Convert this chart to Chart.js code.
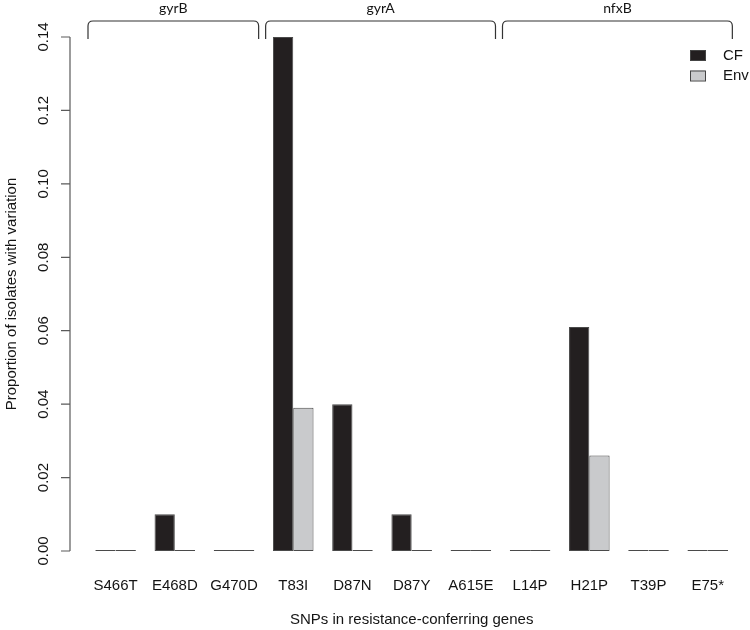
<!DOCTYPE html>
<html>
<head>
<meta charset="utf-8">
<title>SNPs in resistance-conferring genes</title>
<script src="https://cdn.jsdelivr.net/npm/chart.js@4.4.1/dist/chart.umd.min.js"></script>
<style>
  html, body { margin: 0; padding: 0; background: #fff; }
  #wrap { width: 750px; height: 630px; }
</style>
</head>
<body>
<div id="wrap"><canvas id="snp-chart" width="750" height="630"></canvas></div>
<script>
// --- data ---
const categories = ['S466T', 'E468D', 'G470D', 'T83I', 'D87N', 'D87Y', 'A615E', 'L14P', 'H21P', 'T39P', 'E75*'];
const cfValues  = [0, 0.01, 0, 0.14, 0.04, 0.01, 0, 0, 0.061, 0, 0];
const envValues = [0, 0, 0, 0.039, 0, 0, 0, 0, 0.026, 0, 0];
const yTicks = [0, 0.02, 0.04, 0.06, 0.08, 0.10, 0.12, 0.14];
const geneNames = ['gyrB', 'gyrA', 'nfxB'];
const geneFirst = [0, 3, 7];
const geneLast  = [2, 6, 10];

document.addEventListener('DOMContentLoaded', () => {
    const TEXT = '#141414';
    const AXIS = '#5a5a5a';
    const FONT = '"Liberation Sans", Arial, sans-serif';

    // R-style detached y axis: line + tick marks, left of the plot region
    const rAxisPlugin = {
        id: 'rAxis',
        afterDraw(chart) {
            const { ctx, chartArea } = chart;
            const y = chart.scales.y;
            const x0 = chartArea.left - 16;
            ctx.save();
            ctx.strokeStyle = AXIS;
            ctx.lineWidth = 1.2;
            ctx.beginPath();
            ctx.moveTo(x0, y.getPixelForValue(yTicks[0]));
            ctx.lineTo(x0, y.getPixelForValue(yTicks[yTicks.length - 1]));
            y.ticks.forEach(t => {
                const py = y.getPixelForValue(t.value);
                ctx.moveTo(x0 - 9, py);
                ctx.lineTo(x0, py);
            });
            ctx.stroke();
            ctx.restore();
        }
    };

    // gene brackets above the groups of SNPs
    const bracketPlugin = {
        id: 'geneBrackets',
        afterDraw(chart) {
            const { ctx } = chart;
            const x = chart.scales.x;
            const half = (x.getPixelForValue(1) - x.getPixelForValue(0)) / 2;
            const top = 21, foot = 39, r = 5;
            ctx.save();
            ctx.strokeStyle = '#333';
            ctx.lineWidth = 1.2;
            ctx.fillStyle = TEXT;
            ctx.font = '14px Lato, "Open Sans", sans-serif';
            ctx.textAlign = 'center';
            ctx.textBaseline = 'middle';
            geneNames.forEach((name, i) => {
                const left = x.getPixelForValue(geneFirst[i]) - half + 2;
                const right = x.getPixelForValue(geneLast[i]) + half - 5;
                ctx.beginPath();
                ctx.moveTo(left, foot);
                ctx.lineTo(left, top + r);
                ctx.quadraticCurveTo(left, top, left + r, top);
                ctx.lineTo(right - r, top);
                ctx.quadraticCurveTo(right, top, right, top + r);
                ctx.lineTo(right, foot);
                ctx.stroke();
                ctx.fillText(name, (left + right) / 2, 8);
            });
            ctx.restore();
        }
    };

    // legend in the top-right corner, built from the datasets
    const legendPlugin = {
        id: 'cornerLegend',
        afterDraw(chart) {
            const { ctx } = chart;
            ctx.save();
            ctx.font = '15px ' + FONT;
            ctx.textBaseline = 'middle';
            ctx.textAlign = 'left';
            chart.data.datasets.forEach((ds, i) => {
                const by = 50 + i * 20.5;
                ctx.fillStyle = ds.backgroundColor;
                ctx.fillRect(690, by, 15, 10);
                ctx.strokeStyle = '#444';
                ctx.lineWidth = 1;
                ctx.strokeRect(690.5, by + 0.5, 15, 10);
                ctx.fillStyle = TEXT;
                ctx.fillText(ds.label, 723, by + 5.5);
            });
            ctx.restore();
        }
    };

    new Chart(document.getElementById('snp-chart'), {
        type: 'bar',
        data: {
            labels: categories,
            datasets: [
                { label: 'CF',  data: cfValues,  backgroundColor: '#231f20' },
                { label: 'Env', data: envValues, backgroundColor: '#c9cacc' }
            ]
        },
        options: {
            responsive: false,
            animation: false,
            devicePixelRatio: 1,
            layout: { padding: { top: 35, right: 0, left: 0, bottom: 0 } },
            datasets: {
                bar: {
                    barPercentage: 1,
                    categoryPercentage: 0.685,
                    borderColor: '#4a4a4a',
                    borderWidth: 1,
                    borderSkipped: false,
                    minBarLength: 1
                }
            },
            plugins: {
                legend: { display: false },
                tooltip: { enabled: false }
            },
            scales: {
                x: {
                    grid: { display: false, drawTicks: false },
                    border: { display: false },
                    ticks: {
                        color: TEXT,
                        font: { family: FONT, size: 15 },
                        padding: 26,
                        maxRotation: 0,
                        autoSkip: false
                    },
                    title: {
                        display: true,
                        text: 'SNPs in resistance-conferring genes',
                        color: TEXT,
                        font: { family: FONT, size: 15 },
                        padding: { top: 0, bottom: 1 }
                    },
                    afterFit(scale) { scale.height = 79; }
                },
                y: {
                    min: 0,
                    max: 0.14,
                    grid: { display: false, drawTicks: false },
                    border: { display: false },
                    afterBuildTicks(scale) { scale.ticks = yTicks.map(v => ({ value: v })); },
                    ticks: {
                        color: TEXT,
                        font: { family: FONT, size: 15 },
                        minRotation: 90,
                        maxRotation: 90,
                        crossAlign: 'center',
                        padding: 28,
                        callback: v => v.toFixed(2)
                    },
                    title: {
                        display: true,
                        text: 'Proportion of isolates with variation',
                        color: TEXT,
                        font: { family: FONT, size: 15 },
                        padding: { top: 3, bottom: 0 }
                    },
                    afterFit(scale) { scale.width = 86; }
                }
            }
        },
        plugins: [rAxisPlugin, bracketPlugin, legendPlugin]
    });
});
</script>
</body>
</html>
